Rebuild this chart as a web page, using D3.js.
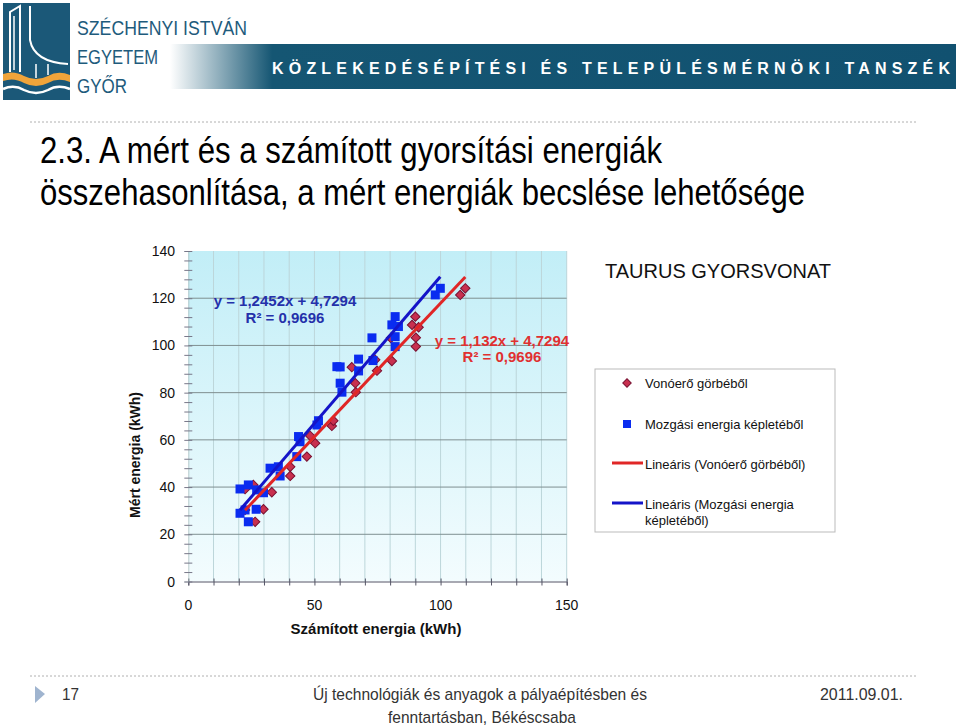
<!DOCTYPE html>
<html><head><meta charset="utf-8">
<script src="https://cdn.jsdelivr.net/npm/d3@7"></script>
<style>body{margin:0;background:#fff}svg{display:block}</style>
</head><body>
<script>
// ---------- DATA ----------
const blueX = [20.5,22.5,23.8,26.9,20.5,23.8,27.1,29.8,32.4,35.7,36.4,43.0,43.7,44.3,51.0,51.6,58.9,60.2,60.2,60.9,67.5,67.5,72.8,73.2,82.0,80.7,83.3,82.0,82.0,97.9,99.9];
const blueY = [28.9,30.3,25.3,30.6,39.2,40.9,38.8,37.6,48.0,48.6,44.7,52.9,61.4,59.2,66.3,68.1,91.0,90.9,84.0,80.2,94.2,89.2,103.2,93.6,112.2,108.7,108.0,103.7,99.5,121.4,124.2];
const redX = [22.5,29.8,26.5,25.8,22.5,33.1,40.4,40.4,47.0,48.3,50.3,56.9,57.5,64.8,66.2,66.4,74.1,74.8,80.3,80.7,90.0,88.7,91.3,90.2,90.2,107.8,109.8];
const redY = [30.3,30.6,25.3,40.9,39.1,37.8,48.6,44.7,52.9,61.7,58.6,65.9,68.1,90.8,84.0,80.2,93.9,89.3,103.1,93.4,112.2,108.7,107.7,103.3,99.5,121.4,124.2];
const blueFit = {slope:1.2452, intercept:4.7294, from:20.5, to:99.9};
const redFit = {slope:1.132, intercept:4.7294, from:22.5, to:109.8};
const xTicks = [0,50,100,150];
const yTicks = [0,20,40,60,80,100,120,140];
const legendLabels = ["Vonóerő görbéből","Mozgási energia képletéből","Lineáris (Vonóerő görbéből)","Lineáris (Mozgási energia","képletéből)"];

const W=960,H=726;
const svg=d3.select("body").append("svg").attr("width",W).attr("height",H);
const defs=svg.append("defs");
const g1=defs.append("linearGradient").attr("id","plotbg").attr("x1",0).attr("y1",0).attr("x2",0).attr("y2",1);
g1.append("stop").attr("offset","0%").attr("stop-color","#c2eef7");
g1.append("stop").attr("offset","100%").attr("stop-color","#f3fcfe");
const g2=defs.append("linearGradient").attr("id","banner").attr("x1",0).attr("y1",0).attr("x2",1).attr("y2",0);
g2.append("stop").attr("offset","0%").attr("stop-color","#ffffff");
g2.append("stop").attr("offset","13%").attr("stop-color","#155673");
g2.append("stop").attr("offset","100%").attr("stop-color","#115170");

// ---------- HEADER ----------
svg.append("rect").attr("x",170).attr("y",44).attr("width",786).attr("height",45).attr("fill","url(#banner)");
svg.append("text").attr("x",272).attr("y",74).attr("fill","#fff").attr("font-family","Liberation Sans, Arial, sans-serif")
  .attr("font-weight","bold").attr("font-size",16).attr("textLength",678).attr("lengthAdjust","spacing")
  .text("KÖZLEKEDÉSÉPÍTÉSI ÉS TELEPÜLÉSMÉRNÖKI TANSZÉK");
// logo
const lg=svg.append("g");
lg.append("rect").attr("x",3).attr("y",3).attr("width",67).attr("height",97).attr("fill","#1b5878");
lg.append("path").attr("d","M10,72 L10,12 L20,6 L20,72").attr("fill","none").attr("stroke","#fff").attr("stroke-width",2);
lg.append("path").attr("d","M14,70 L14,16").attr("fill","none").attr("stroke","#fff").attr("stroke-width",1.5);
lg.append("path").attr("d","M30,6 L30,40 Q34,62 68,64").attr("fill","none").attr("stroke","#fff").attr("stroke-width",2);
lg.append("path").attr("d","M3,74 Q14,70 24,76 Q36,82 48,76 Q58,70 70,75 L70,82 Q58,77 48,83 Q36,89 24,83 Q14,77 3,81 Z").attr("fill","#f0a43a");
lg.append("path").attr("d","M3,89 Q14,84 24,90 Q36,96 48,90 Q58,84 70,89").attr("fill","none").attr("stroke","#fff").attr("stroke-width",2.5);
lg.append("path").attr("d","M48,64 L48,75 M36,64 L36,78").attr("fill","none").attr("stroke","#fff").attr("stroke-width",1.5);
const lt=[["SZÉCHENYI ISTVÁN",35,170],["EGYETEM",64,81],["GYŐR",93,50]];
lt.forEach(d=>svg.append("text").attr("x",77).attr("y",d[1]).attr("fill","#1e5b7c")
  .attr("font-family","Liberation Sans Narrow, Liberation Sans, Arial, sans-serif").attr("font-size",21)
  .attr("textLength",d[2]).attr("lengthAdjust","spacingAndGlyphs").text(d[0]));

// dotted separators
[122,676].forEach(yy=>svg.append("line").attr("x1",30).attr("x2",918).attr("y1",yy).attr("y2",yy)
  .attr("stroke","#b0b0b0").attr("stroke-width",1).attr("stroke-dasharray","2,2"));

// title
const tf="Liberation Sans Narrow, Arial Narrow, Liberation Sans, Arial, sans-serif";
svg.append("text").attr("x",40).attr("y",163).attr("font-family",tf).attr("font-size",37).attr("fill","#000")
  .attr("textLength",622).attr("lengthAdjust","spacingAndGlyphs").text("2.3. A mért és a számított gyorsítási energiák");
svg.append("text").attr("x",40).attr("y",205).attr("font-family",tf).attr("font-size",37).attr("fill","#000")
  .attr("textLength",765).attr("lengthAdjust","spacingAndGlyphs").text("összehasonlítása, a mért energiák becslése lehetősége");

// ---------- CHART ----------
const x=d3.scaleLinear().domain([0,150]).range([188.3,566.7]);
const y=d3.scaleLinear().domain([0,140]).range([581.5,251]);
const font="Liberation Sans, Arial, sans-serif";

svg.append("rect").attr("x",x(0)).attr("y",y(140)).attr("width",x(150)-x(0)).attr("height",y(0)-y(140)).attr("fill","url(#plotbg)");
// vertical gridlines
svg.append("g").selectAll("line").data(d3.range(10,151,10)).join("line")
  .attr("x1",d=>x(d)).attr("x2",d=>x(d)).attr("y1",y(140)).attr("y2",y(0))
  .attr("stroke","#bcd6da").attr("stroke-width",1);
// horizontal major gridlines
svg.append("g").selectAll("line").data(d3.range(20,121,20)).join("line")
  .attr("x1",x(0)).attr("x2",x(150)).attr("y1",d=>y(d)).attr("y2",d=>y(d))
  .attr("stroke","#7f8f90").attr("stroke-width",1);
// x axis
const xAxis=svg.append("g").attr("transform",`translate(0,${y(0)})`)
  .call(d3.axisBottom(x).tickValues(d3.range(0,151,10)).tickSize(4).tickFormat(""));
xAxis.select(".domain").attr("stroke","#556");
xAxis.selectAll(".tick line").attr("stroke","#556").attr("y1",-3);
// y axis minor ticks
const yAxis=svg.append("g").attr("transform",`translate(${x(0)},0)`)
  .call(d3.axisLeft(y).tickValues(d3.range(0,141,4)).tickSize(4).tickFormat(""));
yAxis.select(".domain").attr("stroke","#9aa").attr("stroke-width",0.6);
yAxis.selectAll(".tick line").attr("stroke","#778").attr("x2",-4).attr("x1",4);
// tick labels
svg.append("g").selectAll("text").data(yTicks).join("text")
  .attr("x",175).attr("y",d=>y(d)+5).attr("text-anchor","end").attr("font-family",font).attr("font-size",14).attr("fill","#111").text(d=>d);
svg.append("g").selectAll("text").data(xTicks).join("text")
  .attr("x",d=>x(d)).attr("y",610).attr("text-anchor","middle").attr("font-family",font).attr("font-size",14).attr("fill","#111").text(d=>d);
// axis titles
svg.append("text").attr("x",376).attr("y",634).attr("text-anchor","middle").attr("font-family",font).attr("font-weight","bold").attr("font-size",15).attr("fill","#111").text("Számított energia (kWh)");
svg.append("text").attr("transform","translate(140,455) rotate(-90)").attr("text-anchor","middle").attr("font-family",font).attr("font-weight","bold").attr("font-size",14).attr("fill","#111").text("Mért energia (kWh)");

// points
const redPts=redX.map((v,i)=>[v,redY[i]]);
const bluePts=blueX.map((v,i)=>[v,blueY[i]]);
svg.append("g").selectAll("path").data(redPts).join("path")
  .attr("d",d3.symbol().type(d3.symbolSquare).size(44))
  .attr("transform",d=>`translate(${x(d[0])},${y(d[1])}) rotate(45)`)
  .attr("fill","#c8304f").attr("stroke","#7a1030").attr("stroke-width",1);
svg.append("g").selectAll("rect").data(bluePts).join("rect")
  .attr("x",d=>x(d[0])-4.5).attr("y",d=>y(d[1])-4.5).attr("width",9).attr("height",9).attr("fill","#0a2cf0");
// trend lines
const line=d3.line().x(d=>x(d[0])).y(d=>y(d[1]));
[[redFit,"#e02626"],[blueFit,"#1414c8"]].forEach(([f,c])=>{
  const pts=[f.from,f.to].map(v=>[v,f.slope*v+f.intercept]);
  svg.append("path").attr("d",line(pts)).attr("stroke",c).attr("stroke-width",3).attr("fill","none");
});
// equations
const eq=(xx,yy,t,c)=>svg.append("text").attr("x",xx).attr("y",yy).attr("text-anchor","middle").attr("font-family",font).attr("font-weight","bold").attr("font-size",15).attr("fill",c).text(t);
eq(285,306,"y = 1,2452x + 4,7294","#2430aa");
eq(285,323,"R² = 0,9696","#2430aa");
eq(502,346,"y = 1,132x + 4,7294","#e03030");
eq(502,362,"R² = 0,9696","#e03030");

// chart title
svg.append("text").attr("x",718).attr("y",278).attr("text-anchor","middle").attr("font-family",font).attr("font-size",20).attr("fill","#111").text("TAURUS GYORSVONAT");

// legend
const L=svg.append("g");
L.append("rect").attr("x",595).attr("y",369).attr("width",240).attr("height",163).attr("fill","#fff").attr("stroke","#bbb");
L.append("path").attr("d",d3.symbol().type(d3.symbolSquare).size(36)).attr("transform","translate(627,383) rotate(45)").attr("fill","#c8304f").attr("stroke","#7a1030");
L.append("rect").attr("x",623).attr("y",420).attr("width",8).attr("height",8).attr("fill","#0a2cf0");
L.append("line").attr("x1",612).attr("x2",643).attr("y1",463).attr("y2",463).attr("stroke","#e02626").attr("stroke-width",3);
L.append("line").attr("x1",612).attr("x2",643).attr("y1",503).attr("y2",503).attr("stroke","#1414c8").attr("stroke-width",3);
const ly=[388,429,469,509,525];
L.selectAll("text").data(legendLabels).join("text").attr("x",645).attr("y",(d,i)=>ly[i])
  .attr("font-family",font).attr("font-size",13).attr("fill","#111").text(d=>d);

// ---------- FOOTER ----------
svg.append("path").attr("d","M35,686 L45,694 L35,703 Z").attr("fill","#9fb4cf");
const ff="Liberation Sans Narrow, Liberation Sans, Arial, sans-serif";
svg.append("text").attr("x",62).attr("y",700).attr("font-family",ff).attr("font-size",17).attr("fill","#333").attr("textLength",17).attr("lengthAdjust","spacingAndGlyphs").text("17");
svg.append("text").attr("x",313).attr("y",700).attr("font-family",ff).attr("font-size",17).attr("fill","#333").attr("textLength",334).attr("lengthAdjust","spacingAndGlyphs").text("Új technológiák és anyagok a pályaépítésben és");
svg.append("text").attr("x",388).attr("y",723).attr("font-family",ff).attr("font-size",17).attr("fill","#333").attr("textLength",188).attr("lengthAdjust","spacingAndGlyphs").text("fenntartásban, Békéscsaba");
svg.append("text").attr("x",820).attr("y",700).attr("font-family",ff).attr("font-size",17).attr("fill","#333").attr("textLength",83).attr("lengthAdjust","spacingAndGlyphs").text("2011.09.01.");
</script>
</body></html>
